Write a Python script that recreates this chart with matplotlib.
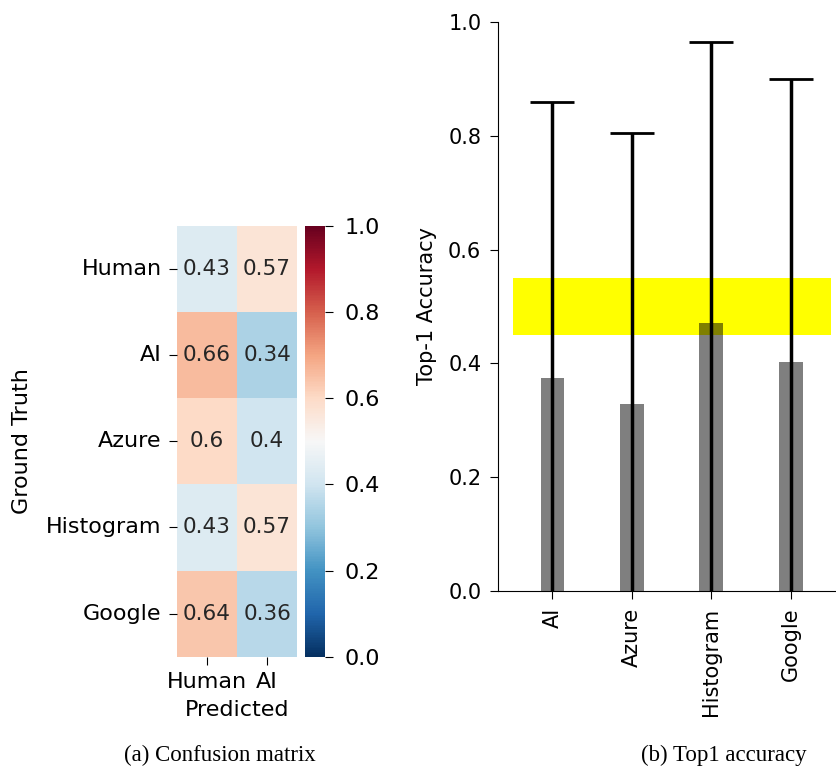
import numpy as np
import pandas as pd
import matplotlib
matplotlib.use('Agg')
import matplotlib.pyplot as plt
import seaborn as sns

# confusion matrix values
gt_labels = ['Human', 'AI', 'Azure', 'Histogram', 'Google']
pred_labels = ['Human', 'AI']
conf = [[0.43, 0.57],
        [0.66, 0.34],
        [0.60, 0.40],
        [0.43, 0.57],
        [0.64, 0.36]]

# top-1 accuracy
methods = ['AI', 'Azure', 'Histogram', 'Google']
acc = [0.375, 0.329, 0.471, 0.403]
acc_err = [0.484, 0.476, 0.494, 0.497]
chance_lo = 0.45
chance_hi = 0.55

fig = plt.figure(figsize=(8.37, 7.7), dpi=100)

ax1 = fig.add_axes([0.2115, 0.147, 0.1435, 0.560])
cax = fig.add_axes([0.3644, 0.147, 0.0239, 0.560])
df = pd.DataFrame(conf, index=gt_labels, columns=pred_labels)
sns.heatmap(df, annot=True, cmap='RdBu_r', vmin=0, vmax=1, ax=ax1, cbar_ax=cax,
            annot_kws={'fontsize': 15.5})
ax1.tick_params(labelsize=16, length=6, pad=5)
ax1.set_yticklabels(gt_labels, rotation=0)
ax1.set_xticklabels(pred_labels, rotation=0)
ax1.set_xlabel('Predicted', fontsize=16, labelpad=6)
ax1.set_ylabel('Ground Truth', fontsize=16, labelpad=10)
cax.tick_params(labelsize=16, length=6, pad=8)

ax2 = fig.add_axes([0.595, 0.2325, 0.405, 0.739])
x = np.arange(len(methods))
ax2.fill_between([-0.5, 3.5], chance_lo, chance_hi, color='yellow', linewidth=0)
ax2.bar(x, acc, width=0.3, color='black', alpha=0.5)
ax2.errorbar(x, acc, yerr=acc_err, fmt='none', ecolor='black', elinewidth=2.5,
             capsize=16, capthick=2)
ax2.set_xlim(-0.685, 3.58)
ax2.set_ylim(0, 1.0)
ax2.set_xticks(x)
ax2.set_xticklabels(methods, rotation=90)
ax2.set_ylabel('Top-1 Accuracy', fontsize=15, labelpad=8)
ax2.tick_params(labelsize=15, length=6, pad=6)
for s in ['top', 'right']:
    ax2.spines[s].set_visible(False)

fig.text(0.263, 0.012, '(a) Confusion matrix', family='Liberation Serif', fontsize=16.5, ha='center')
fig.text(0.865, 0.012, '(b) Top1 accuracy', family='Liberation Serif', fontsize=16.5, ha='center')

fig.savefig('out.png', dpi=100)
